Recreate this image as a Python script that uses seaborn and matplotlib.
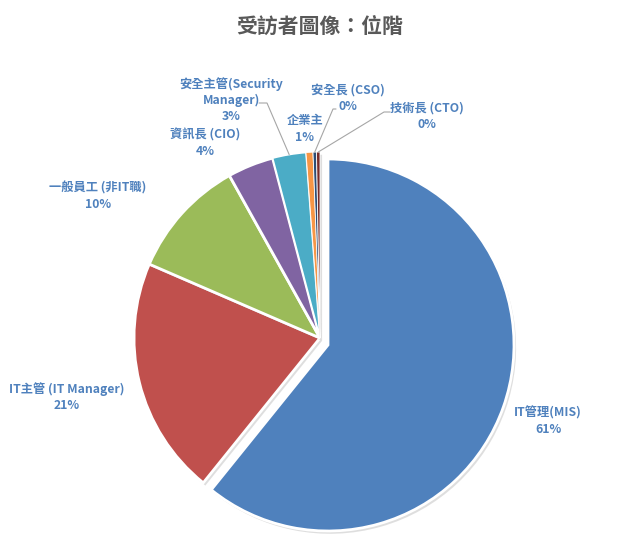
import numpy as np
import matplotlib
matplotlib.use("Agg")
import matplotlib.pyplot as plt
import matplotlib.patheffects as pe
import seaborn as sns

# ---- data ----
categories = ["IT管理(MIS)", "IT主管 (IT Manager)", "一般員工 (非IT職)", "資訊長 (CIO)",
              "安全主管(Security\nManager)", "企業主", "安全長 (CSO)", "技術長 (CTO)"]
shares = [60.8, 20.7, 10.4, 4.0, 2.9, 0.6, 0.3, 0.3]
title = "受訪者圖像：位階"

# ---- style ----
colors = ["#4F81BD", "#C0504D", "#9BBB59", "#8064A2", "#4BACC6", "#F79646", "#2C4D75", "#772C2A"]
sns.set_theme(style="white")
plt.rcParams["font.family"] = ["Noto Sans CJK TC", "DejaVu Sans"]

W, H = 640, 554
CX, CY, R = 320, 338, 186.0

fig = plt.figure(figsize=(W / 100, H / 100), dpi=100)
ax = fig.add_axes([0, 0, 1, 1])
ax.axis("off")


def px(x, y):
    return ((x - CX) / R, (CY - y) / R)


wedges, _ = ax.pie(shares, colors=colors, startangle=90, counterclock=False,
                   radius=1.0, center=(0, 0),
                   wedgeprops=dict(edgecolor="white", linewidth=2.0),
                   frame=False)
ax.set_xlim(-CX / R, (W - CX) / R)
ax.set_ylim(-(H - CY) / R, CY / R)
ax.set_aspect("auto")
ax.axis("off")

# explode the first slice
wedges[0].set_center((8 / R, -7 / R))
for i, w in enumerate(wedges):
    if i >= 5:
        w.set_linewidth(0.6)
    elif i == 4:
        w.set_linewidth(1.2)
    w.set_path_effects([pe.SimplePatchShadow(offset=(1.5, -2), shadow_rgbFace="#7f7f7f", alpha=0.25),
                        pe.Normal()])

label_color = "#4F81BD"
pct_labels = [f"{v:.0f}%" for v in shares]
label_pos = [(548, 421), (67, 397), (98, 196), (205, 143), (231, 100), (305, 129), (348, 98), (427, 116)]
for name, pct, pos in zip(categories, pct_labels, label_pos):
    ax.text(*px(*pos), f"{name}\n{pct}", ha="center", va="center", multialignment="center",
            fontsize=8.8, fontweight="bold", color=label_color, linespacing=1.32)

# leader lines: (label end, knee) in layout px, end at the wedge's outer mid-point
leaders = {4: ((259, 103), (267, 103)), 6: ((336, 109), (333, 109)), 7: ((390, 112), (384, 112))}
for idx, (p0, p1) in leaders.items():
    w = wedges[idx]
    mid = np.deg2rad((w.theta1 + w.theta2) / 2)
    cx0, cy0 = w.center
    ex, ey = cx0 + np.cos(mid) * w.r, cy0 + np.sin(mid) * w.r
    a, b = px(*p0), px(*p1)
    ax.plot([a[0], b[0], ex], [a[1], b[1], ey], color="#A6A6A6", lw=0.8, zorder=5)

ax.text(*px(320, 26), title, ha="center", va="center", fontsize=15, fontweight="bold", color="#595959")

fig.savefig("out.png", dpi=100)
